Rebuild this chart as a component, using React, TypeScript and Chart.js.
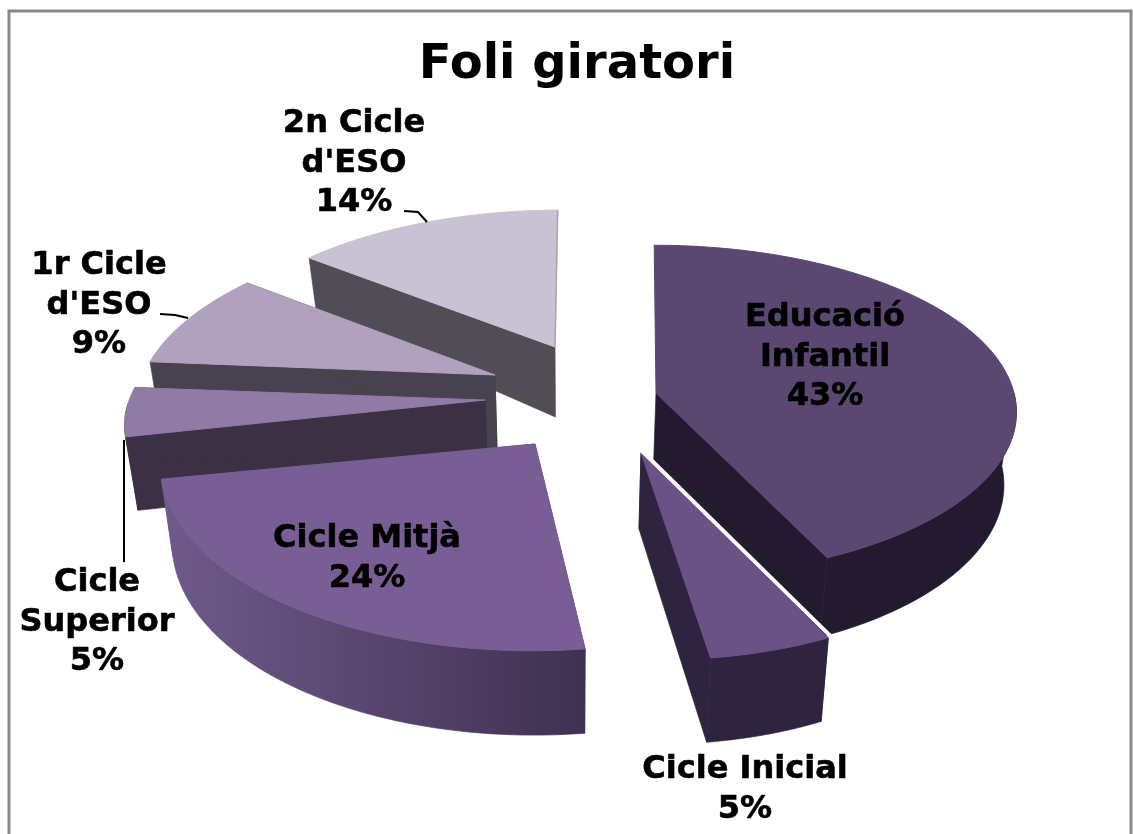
import React, { useEffect, useRef } from "react";
import { Chart, registerables } from "chart.js";

Chart.register(...registerables);

const categories: string[][] = [
  ["Educació", "Infantil"],
  ["Cicle Inicial"],
  ["Cicle Mitjà"],
  ["Cicle", "Superior"],
  ["1r Cicle", "d'ESO"],
  ["2n Cicle", "d'ESO"],
];
const values = [43, 5, 24, 5, 9, 14];
const topColors = ["#5A4772", "#6A5287", "#785E94", "#8F7BA6", "#B0A1BE", "#C9C1D4"];
const wallColors = ["#241A30", "#2E2440", "#3F3151", "#3C3045", "#47424D", "#524D55"];

// Exploded, perspective-projected layout of each slice (origin, radii, shear, tilt, depth)
const projection = [
  { ox: 656, oy: 393, rx: 358, ry: 164, shear: 2, tilt: 0, depth: 72 },
  { ox: 641, oy: 453, rx: 360, ry: 184, shear: 17, tilt: 0, depth: 76 },
  { ox: 535, oy: 444, rx: 372, ry: 184, shear: -2, tilt: 0, depth: 76 },
  { ox: 485, oy: 400, rx: 358, ry: 156, shear: -2, tilt: -7, depth: 72 },
  { ox: 495, oy: 375, rx: 354, ry: 163, shear: -12, tilt: -7, depth: 75 },
  { ox: 555, oy: 347, rx: 344, ry: 152, shear: -3, tilt: -2, depth: 70 },
];
const paintOrder = [5, 4, 3, 2, 0, 1];
const PERSPECTIVE = 0.11;
const VANISH_X = 570;
const VANISH_RATE = 0.028;

const labelPlacement = [
  { x: 825, y: 318 },
  { x: 745, y: 770 },
  { x: 367, y: 539 },
  { x: 97, y: 583 },
  { x: 99, y: 266 },
  { x: 354, y: 124 },
];
const LINE_HEIGHT = 39.5;
const leaderLines = [
  [[404, 211], [418, 212], [427, 222]],
  [[160, 314], [175, 315], [188, 318]],
  [[124, 440], [124, 562]],
];

const piePlugin = {
  id: "pie3d",
  beforeDraw(chart: any) {
    const { ctx } = chart;
    ctx.save();
    ctx.fillStyle = "#fff";
    ctx.fillRect(0, 0, chart.width, chart.height);
    ctx.strokeStyle = "#888888";
    ctx.lineWidth = 3;
    ctx.strokeRect(9, 11, 1122, 830);
    ctx.restore();
  },
  beforeDatasetsDraw(chart: any) {
    const { ctx } = chart;
    const arcs = chart.getDatasetMeta(0).data;
    paintOrder.forEach((i: number) => {
      const arc = arcs[i];
      const p = projection[i];
      const inset = (x: number) => x + (VANISH_X - x) * VANISH_RATE;
      const project = (a: number) => {
        const u = Math.cos(a);
        const v = Math.sin(a);
        const w = 1 - PERSPECTIVE * v;
        return {
          x: p.ox + (p.rx * u + p.shear * v) / w,
          y: p.oy + (p.ry * v + p.tilt * u) / w,
          h: p.depth * (v > 0 ? 1 + 0.11 * v : 1 + 0.35 * v),
          v,
        };
      };
      const steps = 96;
      const rim: { x: number; y: number; h: number; v: number }[] = [];
      for (let s = 0; s <= steps; s++) {
        rim.push(project(arc.startAngle + ((arc.endAngle - arc.startAngle) * s) / steps));
      }
      const xs = rim.map((q) => q.x);
      let wall: any = wallColors[i];
      if (i === 2) {
        const g = ctx.createLinearGradient(Math.min(...xs), 0, Math.max(...xs), 0);
        g.addColorStop(0, "#705A8C");
        g.addColorStop(1, "#3F3151");
        wall = g;
      }
      ctx.save();
      ctx.fillStyle = wall;
      ctx.strokeStyle = wall;
      ctx.lineWidth = 0.7;
      // cut faces; a face pointing straight at the back of the pie is not seen
      [rim[0], rim[steps]].forEach((q) => {
        if (q.v < -0.95) return;
        ctx.beginPath();
        ctx.moveTo(p.ox, p.oy);
        ctx.lineTo(q.x, q.y);
        ctx.lineTo(inset(q.x), q.y + q.h);
        ctx.lineTo(inset(p.ox), p.oy + p.depth);
        ctx.closePath();
        ctx.fill();
        ctx.stroke();
      });
      // outer wall, only its part facing the viewer
      const front = rim.filter((q) => q.v > -0.02);
      if (front.length > 1) {
        ctx.beginPath();
        front.forEach((q, k) => (k ? ctx.lineTo(q.x, q.y) : ctx.moveTo(q.x, q.y)));
        [...front].reverse().forEach((q) => ctx.lineTo(inset(q.x), q.y + q.h));
        ctx.closePath();
        ctx.fill();
        ctx.stroke();
      }
      // top face
      ctx.fillStyle = topColors[i];
      ctx.strokeStyle = topColors[i];
      ctx.lineWidth = 1;
      ctx.beginPath();
      ctx.moveTo(p.ox, p.oy);
      rim.forEach((q) => ctx.lineTo(q.x, q.y));
      ctx.closePath();
      ctx.fill();
      ctx.stroke();
      // thin lit edge on the 2n Cicle slice
      if (i === 5) {
        ctx.strokeStyle = "#A9A4AE";
        ctx.lineWidth = 1.5;
        ctx.beginPath();
        ctx.moveTo(p.ox, p.oy);
        ctx.lineTo(rim[steps].x, rim[steps].y);
        ctx.stroke();
      }
      // white gap beside the Cicle Inicial slice
      if (i === 1) {
        ctx.strokeStyle = "#fff";
        ctx.lineWidth = 4;
        ctx.beginPath();
        ctx.moveTo(p.ox + 1, p.oy - 2);
        ctx.lineTo(rim[0].x + 2, rim[0].y - 2);
        ctx.stroke();
      }
      ctx.restore();
    });
    return false;
  },
  afterDraw(chart: any) {
    const { ctx } = chart;
    ctx.save();
    ctx.strokeStyle = "#000";
    ctx.lineWidth = 2;
    leaderLines.forEach((line) => {
      ctx.beginPath();
      line.forEach(([x, y], k) => (k ? ctx.lineTo(x, y) : ctx.moveTo(x, y)));
      ctx.stroke();
    });
    ctx.fillStyle = "#000";
    ctx.strokeStyle = "#000";
    ctx.lineWidth = 0.6;
    ctx.lineJoin = "round";
    ctx.font = "bold 32px 'DejaVu Sans'";
    ctx.textAlign = "center";
    ctx.textBaseline = "middle";
    categories.forEach((lines, i) => {
      const { x, y } = labelPlacement[i];
      [...lines, `${values[i]}%`].forEach((t, k) => {
        ctx.fillText(t, x, y + k * LINE_HEIGHT);
        ctx.strokeText(t, x, y + k * LINE_HEIGHT);
      });
    });
    ctx.restore();
  },
};

export default function App() {
  const ref = useRef<HTMLCanvasElement>(null);
  useEffect(() => {
    const chart = new Chart(ref.current as HTMLCanvasElement, {
      type: "pie",
      data: {
        labels: categories.map((c) => c.join(" ")),
        datasets: [{ data: values, backgroundColor: topColors, borderWidth: 0 }],
      },
      options: {
        animation: false,
        responsive: false,
        layout: { padding: { left: 21 } },
        plugins: {
          legend: { display: false },
          tooltip: { enabled: false },
          title: {
            display: true,
            text: "Foli giratori",
            color: "#000",
            font: { family: "'DejaVu Sans'", size: 48, weight: "bold" },
            padding: { top: 37, bottom: 10 },
          },
        },
      },
      plugins: [piePlugin],
    } as any);
    return () => chart.destroy();
  }, []);
  return (
    <canvas
      ref={ref}
      width={1133}
      height={834}
      style={{ position: "fixed", left: 0, top: 0, width: 1133, height: 834, display: "block" }}
    />
  );
}
